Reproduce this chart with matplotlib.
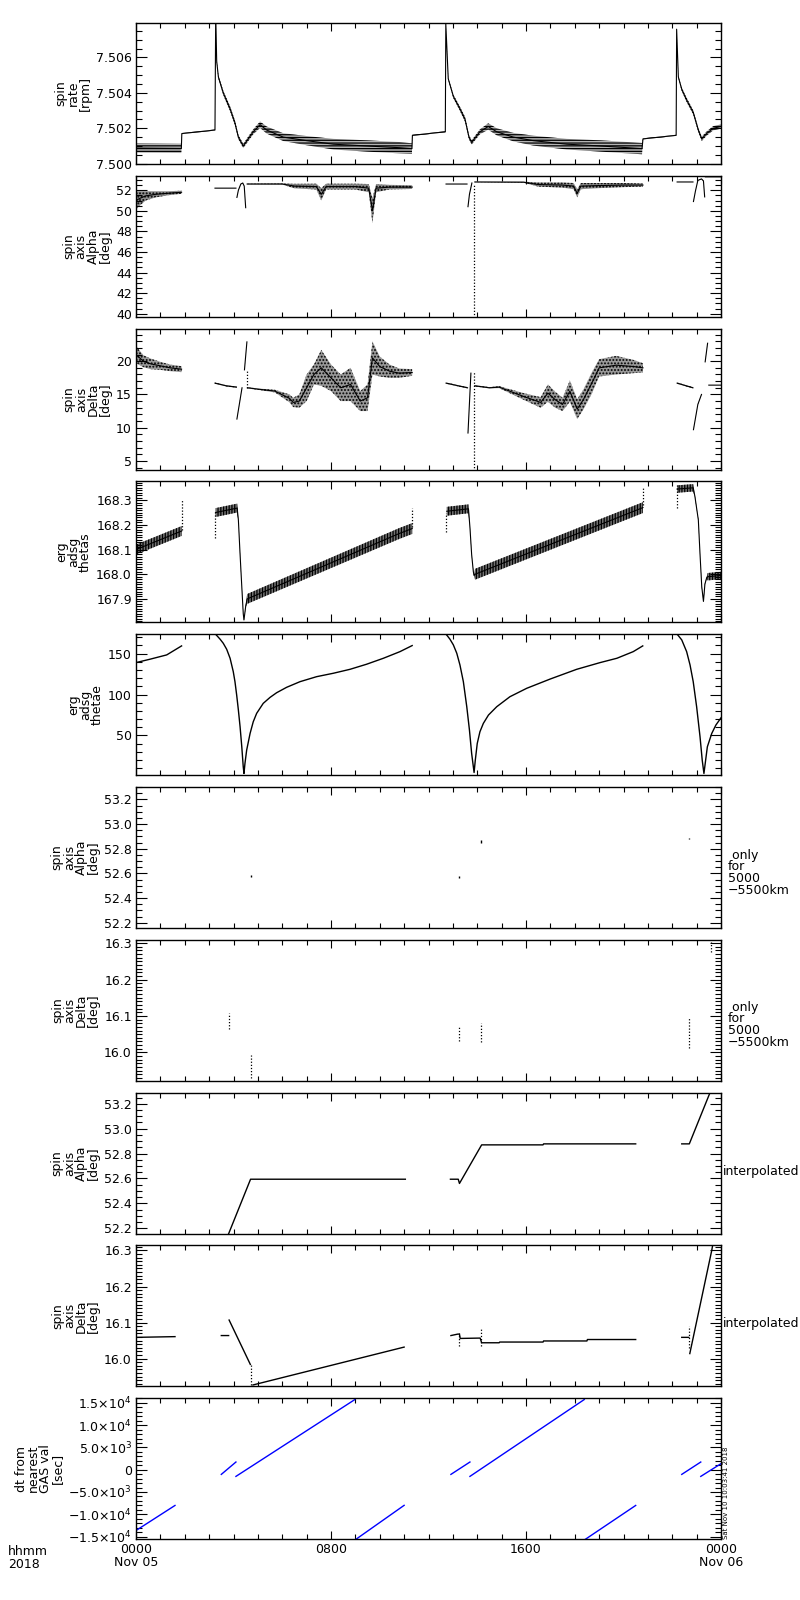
import numpy as np
import matplotlib.pyplot as plt
from matplotlib.ticker import MultipleLocator, FixedLocator, FixedFormatter, FormatStrFormatter

nan = float('nan')

# time in hours from 2018-11-05 0000, nan = data gap

# spin rate [rpm]  (centre of the dot band, half width of band)
rate_t = [0.00, 1.86, 1.88, 3.24, 3.27, 3.31, 3.38, 3.58, 3.86, 4.06, 4.20, 4.40, 4.81, 5.09, 5.36, 6.04,
          7.00, 8.10, 9.46, 10.83, 11.32, 11.34, 12.69, 12.71, 12.81, 13.02, 13.29, 13.50, 13.66, 13.77,
          14.11, 14.45, 14.80, 15.48, 16.30, 17.67, 19.04, 20.76, 20.80, 22.16, 22.18, 22.25, 22.39,
          22.59, 22.86, 23.07, 23.21, 23.41, 23.68, 24.00]
rate_v = [7.50088, 7.50086, 7.50170, 7.50190, 7.50850, 7.50580, 7.50490, 7.50400, 7.50310, 7.50230,
          7.50150, 7.50100, 7.50180, 7.50220, 7.50190, 7.50150, 7.50130, 7.50110, 7.50100, 7.50090,
          7.50085, 7.50160, 7.50180, 7.50790, 7.50480, 7.50380, 7.50310, 7.50250, 7.50150, 7.50120,
          7.50180, 7.50210, 7.50180, 7.50150, 7.50130, 7.50110, 7.50100, 7.50085, 7.50140, 7.50160,
          7.50760, 7.50490, 7.50420, 7.50360, 7.50290, 7.50190, 7.50140, 7.50170, 7.50200, 7.50210]
rate_w = [0.00026, 0.00026, 0.00003, 0.00003, 0.00003, 0.00006, 0.00010, 0.00012, 0.00014, 0.00014,
          0.00012, 0.00012, 0.00014, 0.00018, 0.00020, 0.00022, 0.00026, 0.00030, 0.00032, 0.00032,
          0.00030, 0.00003, 0.00003, 0.00003, 0.00006, 0.00010, 0.00012, 0.00014, 0.00012, 0.00012,
          0.00014, 0.00018, 0.00020, 0.00024, 0.00028, 0.00030, 0.00032, 0.00032, 0.00003, 0.00003,
          0.00003, 0.00006, 0.00010, 0.00012, 0.00012, 0.00012, 0.00012, 0.00012, 0.00012, 0.00012]

# spin axis alpha [deg]
alpha_t = [0.00, 0.15, 0.40, 0.80, 1.30, 1.87, nan, 3.24, 4.10, nan, 4.14, 4.20, 4.30, 4.38, 4.44, 4.50, nan,
           4.56, 6.00, 6.50, 7.40, 7.60, 7.80, 9.00, 9.55, 9.70, 9.85, 10.40, 11.33, nan, 12.72, 13.58, nan,
           13.62, 13.68, 13.78, nan, 13.90, 15.90, 16.50, 17.50, 17.95, 18.10, 18.25, 19.00, 20.00, 20.80, nan,
           22.20, 22.85, nan, 22.87, 22.95, 23.05, 23.20, 23.28, 23.33, nan, 23.36, 24.00]
alpha_v = [51.00, 51.20, 51.45, 51.60, 51.70, 51.80, nan, 52.20, 52.20, nan, 51.30, 52.00, 52.60, 52.70, 52.40,
           50.30, nan, 52.60, 52.60, 52.40, 52.35, 51.60, 52.35, 52.35, 52.20, 50.00, 52.20, 52.30, 52.30, nan,
           52.60, 52.60, nan, 50.40, 51.60, 52.70, nan, 52.80, 52.78, 52.55, 52.50, 52.40, 51.70, 52.40, 52.45,
           52.50, 52.50, nan, 52.80, 52.80, nan, 50.90, 51.90, 52.95, 53.10, 52.90, 51.35, nan, 53.30, 53.30]
alpha_w = [0.90, 0.70, 0.45, 0.30, 0.20, 0.15, nan, 0.03, 0.03, nan, 0.02, 0.02, 0.02, 0.02, 0.02, 0.02, nan,
           0.03, 0.05, 0.22, 0.28, 0.60, 0.28, 0.28, 0.40, 1.20, 0.40, 0.22, 0.18, nan, 0.03, 0.03, nan,
           0.02, 0.02, 0.02, nan, 0.02, 0.05, 0.20, 0.25, 0.30, 0.40, 0.30, 0.25, 0.20, 0.15, nan,
           0.02, 0.02, nan, 0.02, 0.02, 0.02, 0.02, 0.02, 0.02, nan, 0.02, 0.02]
alpha_drop_t = [13.87]
alpha_drop_lo = [39.0]
alpha_drop_hi = [52.6]

# spin axis delta [deg]
delta_t = [0.00, 0.30, 0.60, 1.00, 1.40, 1.87, nan, 3.24, 3.70, 4.12, nan, 4.14, 4.35, nan, 4.45, 4.55, nan,
           4.57, 5.00, 5.70, 6.30, 6.45, 6.70, 7.00, 7.30, 7.60, 8.00, 8.40, 8.80, 9.20, 9.50, 9.70, 10.00,
           10.40, 10.80, 11.33, nan, 12.72, 13.60, nan, 13.62, 13.74, nan, 13.90, 14.50, 14.90, 15.90, 16.60,
           16.90, 17.20, 17.50, 17.80, 18.10, 18.35, 18.70, 19.00, 19.70, 20.40, 20.80, nan, 22.20, 22.85, nan,
           22.87, 23.05, 23.20, nan, 23.35, 23.45, nan, 23.50, 24.00]
delta_v = [21.0, 20.0, 19.6, 19.3, 19.0, 18.8, nan, 16.7, 16.3, 16.1, nan, 11.3, 16.0, nan, 18.7, 22.9, nan,
           16.0, 15.8, 15.5, 14.4, 13.8, 14.0, 16.0, 18.0, 19.0, 17.5, 16.0, 16.5, 14.0, 14.5, 20.5, 19.2,
           18.5, 18.2, 18.3, nan, 16.7, 16.0, nan, 9.2, 18.2, nan, 16.3, 16.0, 16.1, 14.7, 13.8,
           15.2, 14.2, 13.5, 15.5, 12.8, 14.2, 16.7, 19.0, 19.4, 19.2, 19.0, nan, 16.7, 16.0, nan,
           9.7, 13.5, 15.0, nan, 19.9, 22.7, nan, 16.4, 16.4]
delta_w = [1.3, 0.9, 0.8, 0.6, 0.5, 0.45, nan, 0.1, 0.1, 0.1, nan, 0.05, 0.05, nan, 0.05, 0.05, nan,
           0.1, 0.1, 0.2, 0.6, 0.7, 1.0, 2.0, 1.5, 2.7, 2.0, 2.0, 2.5, 1.5, 2.0, 2.5, 1.5,
           1.0, 0.7, 0.5, nan, 0.1, 0.1, nan, 0.05, 0.05, nan, 0.1, 0.1, 0.15, 0.5, 0.8,
           1.3, 1.2, 1.0, 1.6, 1.5, 1.5, 1.6, 1.3, 1.4, 1.0, 0.7, nan, 0.1, 0.1, nan,
           0.05, 0.05, 0.05, nan, 0.05, 0.05, nan, 0.05, 0.05]
delta_drop_t = [4.56, 13.87]
delta_drop_lo = [16.0, 3.0]
delta_drop_hi = [18.7, 18.5]

# erg adsg thetas
thetas_t = [0.00, 1.87, nan, 3.27, 4.15, 4.20, 4.27, 4.34, 4.40, 4.43, 4.50, 4.56, 10.80, 11.33, nan,
            12.75, 13.64, 13.70, 13.77, 13.84, 13.87, 13.91, 20.80, nan, 22.20, 22.86, 22.93, 23.07, 23.14,
            23.21, 23.28, 23.34, 23.41, 23.45, 24.00]
thetas_v = [168.100, 168.175, nan, 168.250, 168.268, 168.220, 168.080, 167.950, 167.840, 167.815, 167.870,
            167.900, 168.165, 168.185, nan, 168.255, 168.265, 168.190, 168.080, 168.010, 167.995, 168.000,
            168.270, nan, 168.345, 168.350, 168.315, 168.220, 168.080, 167.950, 167.890, 167.960, 167.985,
            167.990, 167.995]
thetas_w = [0.020, 0.020, nan, 0.018, 0.018, 0.003, 0.003, 0.003, 0.003, 0.003, 0.003, 0.020, 0.022, 0.022,
            nan, 0.018, 0.018, 0.003, 0.003, 0.003, 0.003, 0.022, 0.022, nan, 0.015, 0.015, 0.003, 0.003,
            0.003, 0.003, 0.003, 0.003, 0.003, 0.015, 0.015]
thetas_spike_t = [1.87, 3.24, 11.33, 12.72, 20.80, 22.20]
thetas_spike_lo = [168.18, 168.145, 168.19, 168.17, 168.28, 168.27]
thetas_spike_hi = [168.30, 168.26, 168.27, 168.25, 168.35, 168.36]

# erg adsg thetae
thetae_t = [0.00, 0.57, 1.26, 1.87, nan,
            3.24, 3.45, 3.58, 3.72, 3.86, 3.99, 4.06, 4.13, 4.20, 4.27, 4.34, 4.40, 4.43, 4.47, 4.54, 4.61,
            4.68, 4.81, 4.95, 5.22, 5.50, 5.77, 6.18, 6.73, 7.41, 8.10, 8.78, 9.46, 10.15, 10.83, 11.33, nan,
            12.70, 12.88, 13.02, 13.16, 13.29, 13.43, 13.57, 13.68, 13.77, 13.87, 13.92, 14.00, 14.11, 14.25,
            14.46, 14.80, 15.34, 16.03, 17.00, 18.08, 19.04, 19.73, 20.40, 20.79, nan,
            22.18, 22.39, 22.59, 22.73, 22.86, 23.00, 23.14, 23.23, 23.30, 23.37, 23.44, 23.62, 23.79, 24.00]
thetae_v = [139.0, 143.1, 148.4, 159.4, nan,
            174.5, 167.6, 162.6, 155.3, 144.3, 128.0, 115.7, 99.4, 81.0, 60.6, 36.1, 11.6, 3.5, 15.7, 32.0, 42.2,
            52.4, 66.7, 77.0, 89.2, 96.5, 102.2, 108.8, 115.7, 121.8, 126.0, 130.8, 137.0, 144.3, 152.4, 159.8, nan,
            174.5, 167.6, 160.6, 150.4, 136.1, 115.7, 85.1, 56.5, 28.0, 4.7, 19.8, 40.2, 54.5, 64.7,
            74.9, 85.1, 97.3, 107.6, 119.0, 130.8, 139.0, 144.3, 152.4, 159.4, nan,
            174.5, 166.7, 152.4, 136.1, 115.7, 85.1, 48.3, 19.7, 3.5, 19.8, 36.1, 52.4, 62.7, 71.5]

# spin axis alpha / delta only for 5000-5500 km
alpha_alt_t = [4.72, 13.27, 14.15, 22.70]
alpha_alt_lo = [52.57, 52.56, 52.85, 52.88]
alpha_alt_hi = [52.59, 52.58, 52.87, 52.89]
delta_alt_t = [3.80, 4.70, 13.27, 14.14, 22.70, 23.58]
delta_alt_lo = [16.063, 15.930, 16.030, 16.028, 16.012, 16.275]
delta_alt_hi = [16.109, 15.994, 16.072, 16.080, 16.095, 16.303]

# interpolated alpha / delta
alpha_int_t = [3.50, 4.70, 11.05, nan, 12.90, 13.22, 13.27, 14.18, 16.70, 16.72, 20.50, nan, 22.39, 22.70,
               23.55, 23.80]
alpha_int_v = [52.01, 52.594, 52.594, nan, 52.594, 52.594, 52.56, 52.87, 52.87, 52.878, 52.878, nan, 52.878,
               52.878, 53.29, 53.45]
delta_int_t = [0.00, 1.60, nan, 3.50, 3.80, nan, 3.82, 4.69, nan, 4.80, 11.00, nan, 12.92, 13.20, 13.27, 13.30,
               14.12, 14.18, 14.90, 14.92, 16.70, 16.72, 18.50, 18.52, 20.50, nan, 22.39, 22.68, nan, 22.72,
               23.62, 23.66]
delta_int_v = [16.059, 16.061, nan, 16.064, 16.064, nan, 16.107, 15.984, nan, 15.927, 16.032, nan, 16.064,
               16.068, 16.068, 16.056, 16.057, 16.044, 16.044, 16.046, 16.046, 16.049, 16.049, 16.053, 16.053,
               nan, 16.059, 16.059, nan, 16.014, 16.300, 16.315]
delta_int_dot_t = [4.72, 13.27, 14.16, 22.70]
delta_int_dot_lo = [15.927, 16.035, 16.035, 16.030]
delta_int_dot_hi = [15.984, 16.070, 16.085, 16.090]

# dt from nearest GAS value [sec]
dt_t = [0.00, 1.60, nan, 3.50, 4.10, nan, 4.10, 8.98, nan, 8.99, 11.00, nan, 12.92, 13.70, nan, 13.70, 18.39,
        nan, 18.40, 20.50, nan, 22.39, 23.17, nan, 23.17, 24.00]
dt_v = [-13650, -8025, nan, -1050, 1725, nan, -1500, 15750, nan, -15750, -8000, nan, -1050, 1725, nan, -1500,
        15750, nan, -15750, -8025, nan, -1050, 1725, nan, -1500, 1350]

dt_ticks = [-15000, -10000, -5000, 0, 5000, 10000, 15000]
dt_labels = ['\u22121.5$\\times$10$^{4}$', '\u22121.0$\\times$10$^{4}$', '\u22125.0$\\times$10$^{3}$', '0',
             '5.0$\\times$10$^{3}$', '1.0$\\times$10$^{4}$', '1.5$\\times$10$^{4}$']
hour_ticks = [0, 8, 16, 24]
hour_labels = ['0000\nNov 05', '0800', '1600', '0000\nNov 06']

plt.rcParams['font.family'] = 'DejaVu Sans'
plt.rcParams['hatch.linewidth'] = 0.9
plt.rcParams['mathtext.fontset'] = 'dejavusans'

fig = plt.figure(figsize=(8, 16), dpi=100)

axes = []
for i in range(10):
    top = 23 + i * 152.8
    axes.append(fig.add_axes([136 / 800, 1 - (top + 141) / 1600, 585 / 800, 141 / 1600]))


def setup(ax, ylim, ticks, fmt, minor, ylabel):
    ax.set_xlim(0, 24)
    ax.set_ylim(*ylim)
    ax.xaxis.set_major_locator(FixedLocator(hour_ticks))
    ax.xaxis.set_minor_locator(MultipleLocator(1))
    ax.yaxis.set_major_locator(FixedLocator(ticks))
    ax.yaxis.set_minor_locator(MultipleLocator(minor))
    if isinstance(fmt, list):
        ax.yaxis.set_major_formatter(FixedFormatter(fmt))
    else:
        ax.yaxis.set_major_formatter(FormatStrFormatter(fmt))
    ax.tick_params(which='both', direction='in', top=True, right=True, labelbottom=False,
                   labelsize=9, width=0.8, pad=3)
    ax.tick_params(axis='y', which='major', length=8)
    ax.tick_params(axis='y', which='minor', length=4)
    ax.tick_params(axis='x', which='major', length=6)
    ax.tick_params(axis='x', which='minor', length=3.5)
    for s in ax.spines.values():
        s.set_linewidth(1.0)
    ax.set_ylabel(ylabel, fontsize=9, linespacing=0.9, labelpad=3)


def band(ax, t, v, w, hatch, shade):
    t = np.array(t)
    v = np.array(v)
    w = np.array(w)
    ax.fill_between(t, v - w, v + w, facecolor=shade, edgecolor='black', hatch=hatch, linewidth=0)
    ax.plot(t, v, color='black', lw=0.8)


def dots(ax, t, lo, hi):
    ax.vlines(t, lo, hi, colors='black', linestyles=(0, (1, 1.5)), lw=0.9)


# 1 spin rate
ax = axes[0]
band(ax, rate_t, rate_v, rate_w, '------', '0.7')
setup(ax, (7.49998, 7.50795), [7.500, 7.502, 7.504, 7.506], '%.3f', 0.0005, 'spin\nrate\n[rpm]')

# 2 alpha
ax = axes[1]
band(ax, alpha_t, alpha_v, alpha_w, '.....', '0.55')
dots(ax, alpha_drop_t, alpha_drop_lo, alpha_drop_hi)
setup(ax, (39.7, 53.4), [40, 42, 44, 46, 48, 50, 52], '%d', 0.5, 'spin\naxis\nAlpha\n[deg]')

# 3 delta
ax = axes[2]
band(ax, delta_t, delta_v, delta_w, '.....', '0.6')
dots(ax, delta_drop_t, delta_drop_lo, delta_drop_hi)
setup(ax, (3.7, 24.9), [5, 10, 15, 20], '%d', 1, 'spin\naxis\nDelta\n[deg]')

# 4 thetas
ax = axes[3]
band(ax, thetas_t, thetas_v, thetas_w, '||||||', '0.45')
dots(ax, thetas_spike_t, thetas_spike_lo, thetas_spike_hi)
setup(ax, (167.805, 168.376), [167.9, 168.0, 168.1, 168.2, 168.3], '%.1f', 0.01, 'erg\nadsg\nthetas')

# 5 thetae
ax = axes[4]
ax.plot(thetae_t, thetae_v, color='black', lw=1.0)
setup(ax, (1.4, 173.7), [50, 100, 150], '%d', 10, 'erg\nadsg\nthetae')

# 6 alpha 5000-5500 km
ax = axes[5]
ax.vlines(alpha_alt_t, alpha_alt_lo, alpha_alt_hi, colors='black', lw=1.0)
setup(ax, (52.157, 53.30), [52.2, 52.4, 52.6, 52.8, 53.0, 53.2], '%.1f', 0.05, 'spin\naxis\nAlpha\n[deg]')

# 7 delta 5000-5500 km
ax = axes[6]
dots(ax, delta_alt_t, delta_alt_lo, delta_alt_hi)
setup(ax, (15.922, 16.309), [16.0, 16.1, 16.2, 16.3], '%.1f', 0.01, 'spin\naxis\nDelta\n[deg]')

# 8 alpha interpolated
ax = axes[7]
ax.plot(alpha_int_t, alpha_int_v, color='black', lw=1.0)
setup(ax, (52.157, 53.29), [52.2, 52.4, 52.6, 52.8, 53.0, 53.2], '%.1f', 0.05, 'spin\naxis\nAlpha\n[deg]')

# 9 delta interpolated
ax = axes[8]
ax.plot(delta_int_t, delta_int_v, color='black', lw=1.0)
dots(ax, delta_int_dot_t, delta_int_dot_lo, delta_int_dot_hi)
setup(ax, (15.923, 16.314), [16.0, 16.1, 16.2, 16.3], '%.1f', 0.01, 'spin\naxis\nDelta\n[deg]')

# 10 dt
ax = axes[9]
ax.plot(dt_t, dt_v, color='#0000ff', lw=1.0)
setup(ax, (-15600, 16050), dt_ticks, dt_labels, 1000, 'dt from\nnearest\nGAS val\n[sec]')
ax.tick_params(labelbottom=True)
ax.set_xticklabels(hour_labels)
for lbl in ax.get_xticklabels():
    lbl.set_linespacing(0.95)

# side texts
note = ' only\nfor\n5000\n\u22125500km'
fig.text(728 / 800, 1 - 873 / 1600, note, fontsize=9, ha='left', va='center', linespacing=0.9)
fig.text(728 / 800, 1 - 1025 / 1600, note, fontsize=9, ha='left', va='center', linespacing=0.9)
fig.text(723 / 800, 1 - 1172 / 1600, 'interpolated', fontsize=9, ha='left', va='center')
fig.text(723 / 800, 1 - 1324 / 1600, 'interpolated', fontsize=9, ha='left', va='center')
fig.text(726 / 800, 1 - 1539 / 1600, 'Sat Nov 10 10:03:41 2018', fontsize=5, rotation=90,
         ha='center', va='bottom')
fig.text(8 / 800, 1 - 1545 / 1600, 'hhmm\n2018', fontsize=9, ha='left', va='top', linespacing=0.95)

fig.savefig('out.png', dpi=100)
